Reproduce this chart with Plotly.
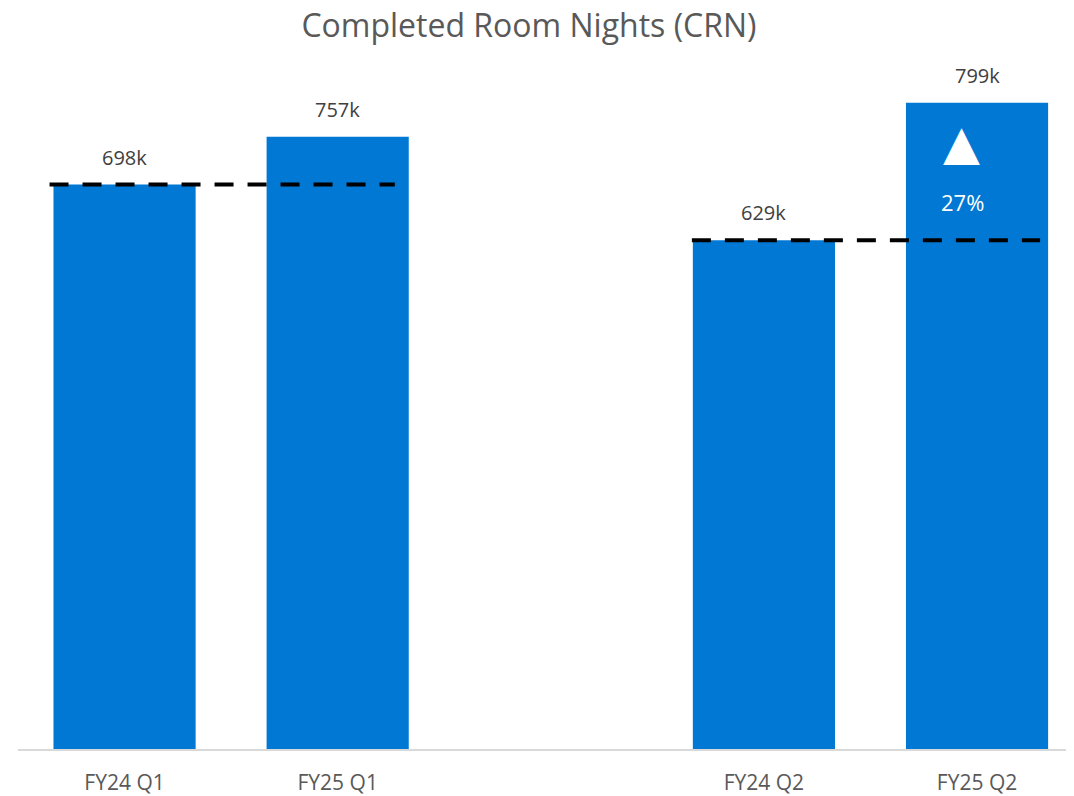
import plotly.graph_objects as go

categories = ["FY24 Q1", "FY25 Q1", " ", "FY24 Q2", "FY25 Q2"]
values = [698, 757, None, 629, 799]
labels = ["698k", "757k", "", "629k", "799k"]
change_label = "27%"
title = "Completed Room Nights (CRN)"

BLUE = "#0078D4"
FONT = "Open Sans"

fig = go.Figure()
fig.add_trace(go.Bar(
    x=categories, y=values, marker_color=BLUE, marker_line_width=0,
    hoverinfo="skip", showlegend=False,
))

annotations = []
for c, v, t in zip(categories, values, labels):
    if v is None:
        continue
    annotations.append(dict(
        x=c, y=v, text=t, showarrow=False, yanchor="bottom", yshift=12,
        font=dict(family=FONT, size=20, color="#404040"),
    ))

# change indicator inside the last bar
annotations.append(dict(
    x=categories[4], y=values[4], text="▲", showarrow=False, yanchor="middle",
    xshift=-16, yshift=-39, font=dict(family="DejaVu Sans", size=48, color="white"),
))
annotations.append(dict(
    x=categories[4], y=values[4], text=change_label, showarrow=False, yanchor="middle",
    xshift=-15, yshift=-99, font=dict(family=FONT, size=22, color="white"),
))

shapes = [
    dict(type="line", xref="x", yref="y", x0=-0.352, x1=1.268, y0=values[0], y1=values[0],
         line=dict(color="black", width=4, dash="19px,14px")),
    dict(type="line", xref="x", yref="y", x0=2.662, x1=4.296, y0=values[3], y1=values[3],
         line=dict(color="black", width=4, dash="19px,14px")),
]

fig.update_layout(
    width=1066, height=788,
    margin=dict(l=10, r=0, t=52, b=44),
    paper_bgcolor="white", plot_bgcolor="white",
    bargap=0.333,
    title=dict(text=title, x=0.4887, xanchor="center", y=0.978, yanchor="middle",
               font=dict(family=FONT, size=32, color="#595959")),
    xaxis=dict(type="category", categoryorder="array", categoryarray=categories,
               range=[-0.5, 4.455], showline=True, linecolor="#d9d9d9", linewidth=2,
               showgrid=False, ticks="", ticklabelstandoff=14,
               tickfont=dict(family=FONT, size=21, color="#595959")),
    yaxis=dict(range=[0, 852], visible=False, showgrid=False, zeroline=False),
    annotations=annotations,
    shapes=shapes,
)

fig.write_html("out.html")
